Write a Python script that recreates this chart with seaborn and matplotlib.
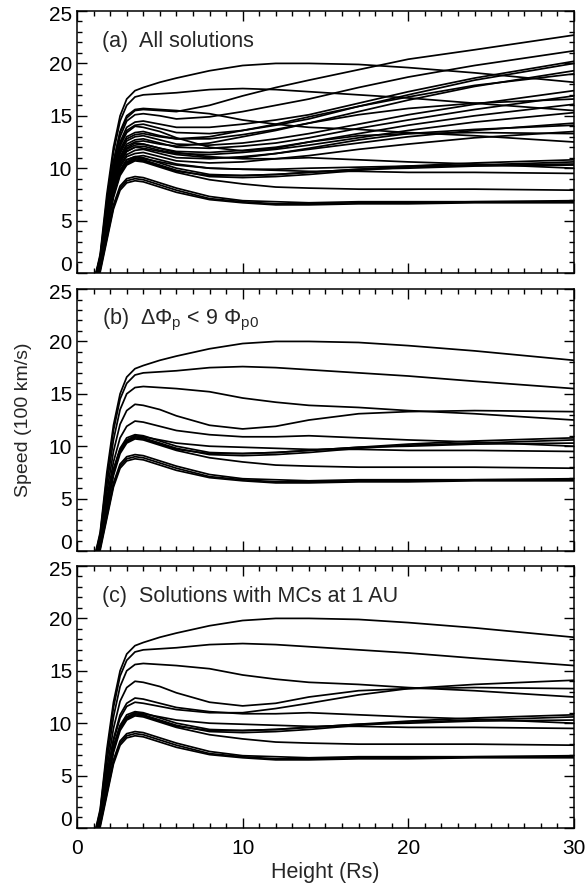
import pandas as pd
import seaborn as sns
import matplotlib
import matplotlib.pyplot as plt
import matplotlib.transforms as mtransforms
from matplotlib.ticker import MultipleLocator

matplotlib.use("Agg")

HEIGHTS = [1.0, 1.4, 1.8, 2.2, 2.6, 3.0, 3.5, 4.0, 5.0, 6.0, 8.0, 10.0, 12.0, 14.0, 17.0, 20.0, 24.0, 30.0]

# Speeds (100 km/s), solutions kept in (b) and (c)
C1 = [-1, 1.8, 7.5, 12.0, 15.0, 16.6, 17.4, 17.7, 18.2, 18.6, 19.3, 19.8, 20.0, 20.0, 19.9, 19.6, 19.1, 18.2]
C2 = [-1, 1.6, 7.0, 11.5, 14.5, 16.0, 16.8, 17.0, 17.1, 17.2, 17.5, 17.6, 17.5, 17.3, 17.0, 16.7, 16.2, 15.5]
C3 = [-1, 1.4, 6.3, 10.6, 13.5, 15.0, 15.6, 15.7, 15.6, 15.5, 15.2, 14.6, 14.2, 13.9, 13.7, 13.4, 13.1, 12.5]
C4 = [-1, 1.2, 5.6, 9.5, 12.1, 13.4, 14.0, 13.9, 13.5, 12.9, 12.0, 11.65, 11.9, 12.5, 13.1, 13.3, 13.4, 13.3]
C5 = [-1, 1.0, 5.0, 8.5, 10.8, 11.9, 12.4, 12.3, 11.9, 11.5, 11.1, 10.9, 10.9, 11.0, 10.8, 10.6, 10.4, 10.0]
B1 = [-1, 0.9, 4.6, 7.8, 9.8, 10.8, 11.1, 11.0, 10.5, 10.0, 9.4, 9.3, 9.4, 9.6, 9.9, 10.2, 10.5, 10.8]
B2 = [-1, 0.7, 4.3, 7.6, 9.6, 10.5, 10.9, 10.8, 10.3, 9.8, 9.2, 9.1, 9.2, 9.4, 9.8, 10.1, 10.3, 10.6]
B3 = [-1, 0.6, 4.1, 7.4, 9.5, 10.4, 10.8, 10.7, 10.2, 9.7, 9.3, 9.3, 9.4, 9.6, 9.9, 10.0, 10.2, 10.3]
B4 = [-1, 0.8, 4.5, 7.7, 9.7, 10.6, 11.0, 10.9, 10.6, 10.3, 10.0, 9.9, 9.8, 9.7, 9.7, 9.6, 9.6, 9.5]
C7 = [-1, 0.5, 4.0, 7.2, 9.3, 10.3, 10.7, 10.6, 10.1, 9.6, 8.9, 8.5, 8.2, 8.1, 8.0, 8.0, 8.0, 7.9]
D1 = [-1, 0.4, 3.5, 6.5, 8.3, 9.0, 9.2, 9.1, 8.6, 8.1, 7.3, 6.9, 6.8, 6.7, 6.8, 6.8, 6.8, 6.9]
D2 = [-1, 0.3, 3.3, 6.3, 8.1, 8.8, 9.0, 8.9, 8.4, 7.9, 7.1, 6.8, 6.6, 6.6, 6.7, 6.7, 6.8, 6.8]
D3 = [-1, 0.1, 3.1, 6.1, 7.9, 8.6, 8.8, 8.7, 8.2, 7.7, 7.0, 6.7, 6.5, 6.5, 6.6, 6.6, 6.7, 6.7]
# extra solution only in (c)
E1 = [-1, 1.0, 4.9, 8.3, 10.5, 11.6, 12.0, 11.9, 11.6, 11.3, 11.0, 11.0, 11.4, 11.9, 12.7, 13.3, 13.7, 14.1]

# solutions only in (a)
A1 = [-1, 1.5, 6.4, 10.6, 13.4, 14.8, 15.5, 15.6, 15.5, 15.4, 16.0, 16.9, 17.7, 18.4, 19.4, 20.4, 21.3, 22.7]
A2 = [-1, 1.4, 6.2, 10.3, 13.0, 14.5, 15.1, 15.2, 15.0, 14.7, 14.9, 15.4, 16.0, 16.6, 17.7, 18.7, 19.8, 21.2]
A3 = [-1, 1.3, 5.9, 9.9, 12.5, 13.9, 14.4, 14.5, 14.2, 13.9, 13.9, 14.2, 14.6, 15.1, 16.2, 17.3, 18.6, 20.2]
A4 = [-1, 1.2, 5.7, 9.7, 12.3, 13.6, 14.1, 14.2, 13.8, 13.4, 13.3, 13.6, 14.1, 14.7, 15.9, 17.0, 18.4, 20.0]
A5 = [-1, 1.1, 5.4, 9.3, 11.8, 13.0, 13.4, 13.5, 13.1, 12.8, 12.8, 13.2, 13.7, 14.3, 15.4, 16.5, 17.8, 19.3]
A6 = [-1, 1.0, 5.2, 9.1, 11.6, 12.8, 13.2, 13.3, 13.0, 12.8, 13.0, 13.6, 14.2, 14.9, 15.9, 16.8, 17.9, 19.0]
A7 = [-1, 0.9, 5.0, 8.9, 11.4, 12.6, 13.0, 13.1, 12.7, 12.3, 12.2, 12.4, 12.8, 13.3, 14.2, 15.1, 16.1, 17.4]
A8 = [-1, 0.8, 4.9, 8.7, 11.1, 12.3, 12.7, 12.8, 12.4, 12.0, 11.9, 12.1, 12.4, 12.9, 13.8, 14.6, 15.6, 16.9]
A9 = [-1, 1.1, 5.1, 8.7, 11.0, 12.1, 12.5, 12.6, 12.3, 12.1, 12.4, 13.0, 13.6, 14.3, 15.1, 15.7, 16.2, 16.6]
A10 = [-1, 0.7, 4.7, 8.4, 10.8, 11.8, 12.2, 12.3, 11.9, 11.6, 11.5, 11.7, 12.0, 12.5, 13.3, 14.1, 15.0, 16.1]
A11 = [-1, 0.9, 4.8, 8.4, 10.6, 11.6, 12.0, 12.1, 11.7, 11.4, 11.3, 11.5, 11.8, 12.2, 12.9, 13.6, 14.4, 15.3]
A12 = [-1, 0.6, 4.5, 8.1, 10.3, 11.3, 11.7, 11.8, 11.4, 11.0, 10.9, 11.1, 11.4, 11.8, 12.4, 13.0, 13.6, 14.3]
A13 = [-1, 0.8, 4.6, 8.0, 10.1, 11.1, 11.4, 11.5, 11.1, 10.7, 10.5, 10.6, 10.9, 11.2, 11.8, 12.3, 12.9, 13.5]
A14 = [-1, 0.5, 4.3, 7.7, 9.8, 10.8, 11.1, 11.2, 10.8, 10.4, 10.0, 9.9, 9.9, 10.0, 10.1, 10.2, 10.3, 10.4]

CURVES = {
    "C1": C1, "C2": C2, "C3": C3, "C4": C4, "C5": C5,
    "B1": B1, "B2": B2, "B3": B3, "B4": B4, "C7": C7,
    "D1": D1, "D2": D2, "D3": D3, "E1": E1,
    "A1": A1, "A2": A2, "A3": A3, "A4": A4, "A5": A5, "A6": A6, "A7": A7,
    "A8": A8, "A9": A9, "A10": A10, "A11": A11, "A12": A12, "A13": A13, "A14": A14,
}

PANEL_B = ["C1", "C2", "C3", "C4", "C5", "B1", "B2", "B3", "B4", "C7", "D1", "D2", "D3"]
PANEL_C = PANEL_B + ["E1"]
PANEL_A = list(CURVES.keys())

PANEL_TEXT = [
    "(a)  All solutions",
    "(b)  ΔΦ$_\\mathrm{p}$ < 9 Φ$_\\mathrm{p0}$",
    "(c)  Solutions with MCs at 1 AU",
]

# long table for seaborn
rows = []
for name, vals in CURVES.items():
    for h, v in zip(HEIGHTS, vals):
        rows.append({"curve": name, "height": h, "speed": v})
df = pd.DataFrame(rows)

sns.set_theme(style="ticks")
plt.rcParams["font.family"] = ["Liberation Sans", "DejaVu Sans"]
plt.rcParams["mathtext.fontset"] = "custom"
plt.rcParams["mathtext.rm"] = "Liberation Sans"
plt.rcParams["axes.linewidth"] = 1.1

fig = plt.figure(figsize=(5.88, 8.88), dpi=100)
bottoms = [0.6926, 0.3795, 0.0676]
panels = [PANEL_A, PANEL_B, PANEL_C]

for i, (members, label) in enumerate(zip(panels, PANEL_TEXT)):
    ax = fig.add_axes([0.131, bottoms[i], 0.845, 0.295])
    sub = df[df["curve"].isin(members)]
    sns.lineplot(data=sub, x="height", y="speed", units="curve", estimator=None,
                 color="black", linewidth=1.25, legend=False, ax=ax)
    ax.set_xlim(0, 30)
    ax.set_ylim(0, 25)
    ax.xaxis.set_major_locator(MultipleLocator(10))
    ax.xaxis.set_minor_locator(MultipleLocator(1))
    ax.set_yticks([0, 5, 10, 15, 20, 25])
    ax.yaxis.set_minor_locator(MultipleLocator(1))
    ax.tick_params(which="both", direction="in", top=True, right=True,
                   colors="black", labelsize=15, width=1.0)
    ax.tick_params(which="major", length=7)
    ax.tick_params(which="minor", length=3.5)
    ax.tick_params(axis="x", pad=8)
    for s in ax.spines.values():
        s.set_color("black")

    # IDL-like: end labels nudged inside the frame
    ylabels = ax.get_yticklabels()
    ylabels[0].set_transform(ylabels[0].get_transform()
                             + mtransforms.ScaledTranslation(0, 7 / 72, fig.dpi_scale_trans))
    ylabels[-1].set_transform(ylabels[-1].get_transform()
                              + mtransforms.ScaledTranslation(0, -2 / 72, fig.dpi_scale_trans))

    ax.text(1.5, 21.6, label, fontsize=15.5, va="baseline", ha="left")
    ax.set_ylabel("Speed (100 km/s)" if i == 1 else "", fontsize=14, labelpad=12)
    if i < 2:
        ax.set_xlabel("")
        ax.tick_params(labelbottom=False)
    else:
        ax.set_xlabel("Height (Rs)", fontsize=15.5, labelpad=3)

fig.savefig("out.png", dpi=100)
